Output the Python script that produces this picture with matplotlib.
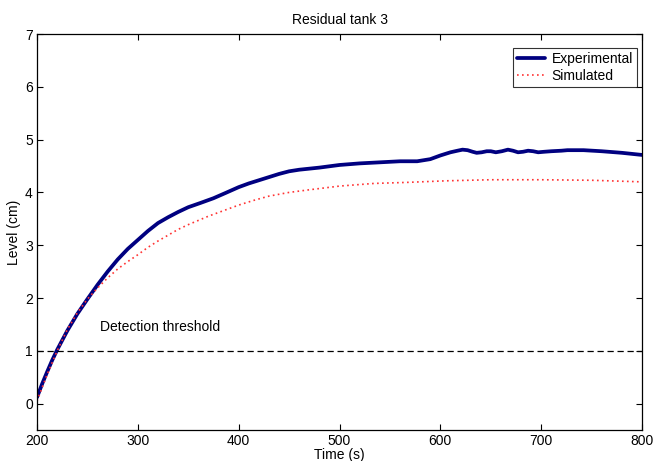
import matplotlib
matplotlib.use("Agg")
import matplotlib.pyplot as plt

plt.rcParams['font.family'] = ['Liberation Sans', 'DejaVu Sans']

exp_t = [200, 205, 210, 215, 220, 230, 240, 250, 260, 270, 280, 290, 300, 310, 320, 330, 340,
         350, 362, 375, 387, 400, 410, 420, 430, 440, 450, 460, 470, 480, 500, 520, 540, 560,
         577, 590, 600, 610, 617, 622, 627, 632, 636, 641, 646, 650, 655, 661, 667, 672, 677,
         682, 687, 692, 697, 703, 710, 720, 726, 742, 760, 780, 800]
exp_y = [0.12, 0.37, 0.60, 0.82, 1.02, 1.38, 1.70, 1.98, 2.25, 2.50, 2.73, 2.93, 3.10, 3.27,
         3.42, 3.53, 3.63, 3.72, 3.80, 3.89, 3.99, 4.10, 4.17, 4.23, 4.29, 4.35, 4.40, 4.43,
         4.45, 4.47, 4.52, 4.55, 4.57, 4.59, 4.59, 4.63, 4.70, 4.76, 4.79, 4.81, 4.80, 4.77,
         4.75, 4.76, 4.78, 4.78, 4.76, 4.78, 4.81, 4.79, 4.76, 4.77, 4.79, 4.78, 4.76, 4.77,
         4.78, 4.79, 4.80, 4.80, 4.78, 4.75, 4.71]

sim_t = [200, 210, 220, 230, 240, 250, 260, 270, 280, 290, 300, 310, 320, 330, 340, 350, 360,
         370, 380, 390, 400, 415, 430, 450, 470, 500, 534, 567, 606, 650, 700, 750, 800]
sim_y = [0.05, 0.55, 1.00, 1.40, 1.72, 1.98, 2.19, 2.38, 2.55, 2.69, 2.82, 2.96, 3.08, 3.19,
         3.30, 3.39, 3.47, 3.55, 3.62, 3.69, 3.76, 3.85, 3.93, 4.00, 4.05, 4.12, 4.17, 4.19,
         4.22, 4.24, 4.24, 4.23, 4.20]

threshold = 1.0
x_ticks = [200, 300, 400, 500, 600, 700, 800]
y_ticks = [0, 1, 2, 3, 4, 5, 6, 7]

fig = plt.figure(figsize=(6.53, 4.61), dpi=100)
ax = fig.add_axes([0.0567, 0.0672, 0.9265, 0.859])

ax.plot(exp_t, exp_y, color='#000080', lw=2.7, label='Experimental',
        solid_joinstyle='round', solid_capstyle='round')
ax.plot(sim_t, sim_y, color='#ff3333', lw=1.2, ls=(0, (1, 2)), label='Simulated')
ax.axhline(threshold, color='black', lw=0.9, ls=(0, (5, 3)))
ax.text(262, 1.32, 'Detection threshold', fontsize=10, va='bottom', ha='left')

ax.set_xlim(200, 800)
ax.set_ylim(-0.5, 7)
ax.set_xticks(x_ticks)
ax.set_yticks(y_ticks)
ax.tick_params(direction='in', top=True, right=True, labelsize=10, length=4, width=0.8, pad=3)
for s in ax.spines.values():
    s.set_linewidth(0.9)
ax.set_xlabel('Time (s)', fontsize=10, labelpad=0)
ax.set_ylabel('Level (cm)', fontsize=10, labelpad=3)
ax.set_title('Residual tank 3', fontsize=10, pad=7)

leg = ax.legend(loc='upper right', bbox_to_anchor=(0.9917, 0.9646), fontsize=10,
                frameon=True, fancybox=False, edgecolor='black', borderaxespad=0,
                handlelength=2.0, handletextpad=0.45, borderpad=0.3, labelspacing=0.2)
leg.get_frame().set_linewidth(0.8)

fig.savefig('out.png', dpi=100)
